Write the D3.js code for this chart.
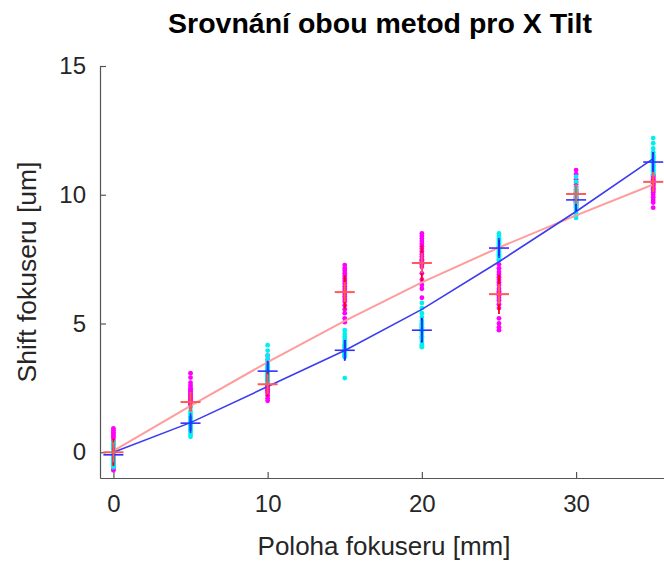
<!DOCTYPE html>
<html>
  <head>
    <meta charset="utf-8">
    <title>Srovnání obou metod pro X Tilt</title>
    <script src="https://d3js.org/d3.v7.min.js"></script>
    <style>
      body { margin: 0; background: #fff; }
      svg { display: block; font-family: "Liberation Sans", Arial, sans-serif; }
      .axis path, .axis line { stroke: #555; stroke-width: 1.2; }
      .axis text { fill: #262626; font-size: 24px; }
    </style>
  </head>
  <body>
    <svg id="chart" width="664" height="561"></svg>
    <script>
      // focuser positions [mm]
      const positions = [0, 5, 10, 15, 20, 25, 30, 35];
      // method 1 (magenta points, red mean)
      const method1Points = [
        [0.93, 0.85, 0.78, 0.7, 0.62, 0.55, 0.45, 0.3, 0.15, 0.05, -0.05, -0.15, -0.25, -0.35, -0.45, -0.5, -0.58, -0.65, -0.7, -0.1],
        [3.07, 2.9, 2.7, 2.6, 2.5, 2.45, 2.4, 2.35, 2.3, 2.25, 2.2, 2.15, 2.1, 2.05, 2.0, 1.98, 1.95, 1.9, 1.85, 1.83],
        [3.75, 3.6, 3.4, 3.2, 3.0, 2.9, 2.8, 2.75, 2.7, 2.65, 2.6, 2.55, 2.5, 2.45, 2.4, 2.35, 2.3, 2.2, 2.1, 2.0],
        [7.27, 7.15, 7.05, 6.95, 6.85, 6.75, 6.65, 6.55, 6.45, 6.35, 6.25, 6.15, 6.05, 5.95, 5.85, 5.7, 5.55, 5.4, 5.2, 5.05],
        [8.5, 8.4, 8.3, 8.2, 8.1, 8.0, 7.9, 7.8, 7.7, 7.6, 7.5, 7.45, 7.4, 7.3, 7.2, 6.95, 6.7, 6.5, 6.35, 6.0],
        [7.3, 7.15, 7.0, 6.9, 6.8, 6.7, 6.6, 6.5, 6.35, 6.25, 6.2, 6.1, 6.0, 5.9, 5.75, 5.6, 5.2, 5.0, 4.85, 4.74],
        [10.96, 10.8, 10.6, 10.5, 10.4, 10.3, 10.2, 10.15, 10.1, 10.05, 10.0, 9.95, 9.9, 9.85, 9.8, 9.75, 9.7, 9.65, 9.6, 9.5],
        [10.8, 10.75, 10.7, 10.65, 10.6, 10.55, 10.5, 10.45, 10.4, 10.35, 10.3, 10.25, 10.2, 10.15, 10.1, 10.0, 9.9, 9.8, 9.7, 9.5]
      ];
      // method 2 (cyan points, blue mean)
      const method2Points = [
        [0.39, 0.3, 0.2, 0.12, 0.05, 0.0, -0.05, -0.1, -0.15, -0.2, -0.25, -0.3, -0.35, -0.4, -0.45, -0.5, -0.55, -0.58, 0.1, -0.12],
        [1.75, 1.6, 1.5, 1.4, 1.35, 1.3, 1.25, 1.2, 1.18, 1.15, 1.12, 1.1, 1.05, 1.0, 0.95, 0.9, 0.85, 0.8, 0.7, 0.6],
        [4.16, 3.95, 3.75, 3.6, 3.5, 3.4, 3.35, 3.3, 3.25, 3.2, 3.15, 3.1, 3.05, 3.0, 2.95, 2.9, 2.85, 2.8, 2.75, 2.7],
        [4.74, 4.6, 4.5, 4.4, 4.3, 4.2, 4.15, 4.1, 4.05, 4.0, 3.95, 3.9, 3.88, 3.85, 3.82, 3.8, 3.75, 3.72, 3.7, 2.88],
        [5.8, 5.6, 5.4, 5.25, 5.1, 5.0, 4.95, 4.9, 4.85, 4.8, 4.75, 4.7, 4.6, 4.5, 4.45, 4.4, 4.3, 4.2, 4.15, 4.08],
        [8.5, 8.4, 8.3, 8.25, 8.2, 8.15, 8.1, 8.05, 8.0, 7.95, 7.9, 7.85, 7.8, 7.75, 7.7, 7.65, 7.6, 7.55, 7.5, 7.46],
        [10.7, 10.5, 10.3, 10.2, 10.1, 10.0, 9.95, 9.9, 9.85, 9.8, 9.75, 9.7, 9.65, 9.6, 9.55, 9.5, 9.4, 9.3, 9.2, 9.1],
        [12.2, 12.0, 11.8, 11.65, 11.55, 11.5, 11.45, 11.4, 11.35, 11.3, 11.25, 11.2, 11.15, 11.1, 11.05, 11.0, 10.95, 10.9, 10.85, 10.8]
      ];
      // means (crosses)
      const method1Means = [0.0, 1.95, 2.64, 6.22, 7.35, 6.14, 10.03, 10.5];
      const method2Means = [-0.1, 1.13, 3.15, 3.96, 4.74, 7.93, 9.8, 11.27];
      // fitted curves
      const method1Fit = [0.05, 1.8, 3.5, 5.1, 6.6, 7.95, 9.2, 10.4];
      const method2Fit = [0.0, 1.15, 2.55, 3.95, 5.55, 7.4, 9.35, 11.4];
      const xTicks = [0, 10, 20, 30];
      const yTicks = [0, 5, 10, 15];

      svg = d3.select("#chart");
      x = d3.scaleLinear().domain([-0.87, 35.7]).range([100, 664]);
      y = d3.scaleLinear().domain([-1, 15]).range([478, 66]);

      // axes (ticks point inward)
      svg.append("g")
        .classed("axis", true)
        .attr("transform", "translate(0,478)")
        .call(d3.axisBottom(x).tickValues(xTicks).tickSizeInner(-6).tickSizeOuter(0).tickPadding(17));
      svg.append("g")
        .classed("axis", true)
        .attr("transform", "translate(100,0)")
        .call(d3.axisLeft(y).tickValues(yTicks).tickSizeInner(-6).tickSizeOuter(0).tickPadding(14));

      plot = svg.append("g");

      // scatter points
      function drawPoints(groups, colour) {
        groups.forEach(function(vals, i) {
          plot.selectAll(null)
            .data(vals)
            .enter().append("circle")
              .attr("cx", x(positions[i]))
              .attr("cy", function(d) { return y(d); })
              .attr("r", 2.4)
              .style("fill", colour);
        });
      }
      drawPoints(method1Points, "#ff00ff");
      drawPoints(method2Points, "#00f0f0");

      // fit lines
      line = d3.line()
        .x(function(d, i) { return x(positions[i]); })
        .y(function(d) { return y(d); });
      plot.append("path")
        .datum(method1Fit)
        .attr("d", line)
        .style("fill", "none")
        .style("stroke", "#ff9c9c")
        .style("stroke-width", 2);
      plot.append("path")
        .datum(method2Fit)
        .attr("d", line)
        .style("fill", "none")
        .style("stroke", "#3c3cf0")
        .style("stroke-width", 1.6);

      // mean crosses with error bars
      function drawCrosses(means, groups, barColour, crossColour, width) {
        means.forEach(function(m, i) {
          let cx = x(positions[i]);
          let cy = y(m);
          let sd = d3.deviation(groups[i]);
          plot.append("line")
            .attr("x1", cx).attr("x2", cx)
            .attr("y1", y(m + sd)).attr("y2", y(m - sd))
            .style("stroke", barColour)
            .style("stroke-width", 1.8);
          plot.append("line")
            .attr("x1", cx - 10).attr("x2", cx + 10)
            .attr("y1", cy).attr("y2", cy)
            .style("stroke", crossColour)
            .style("stroke-width", width);
          plot.append("line")
            .attr("x1", cx).attr("x2", cx)
            .attr("y1", cy - 10).attr("y2", cy + 10)
            .style("stroke", crossColour)
            .style("stroke-width", width);
        });
      }
      drawCrosses(method2Means, method2Points, "#0000ff", "#3030ff", 1.6);
      drawCrosses(method1Means, method1Points, "#ff0000", "#ff5a5a", 2);

      // labels
      svg.append("text")
        .attr("x", 380)
        .attr("y", 33)
        .attr("text-anchor", "middle")
        .style("font-size", "28.5px")
        .style("font-weight", "bold")
        .style("fill", "#000")
        .text("Srovnání obou metod pro X Tilt");
      svg.append("text")
        .attr("x", 384)
        .attr("y", 555)
        .attr("text-anchor", "middle")
        .style("font-size", "26px")
        .style("fill", "#262626")
        .text("Poloha fokuseru [mm]");
      svg.append("text")
        .attr("transform", "translate(36,272) rotate(-90)")
        .attr("text-anchor", "middle")
        .style("font-size", "26.5px")
        .style("fill", "#262626")
        .text("Shift fokuseru [um]");
    </script>
  </body>
</html>
